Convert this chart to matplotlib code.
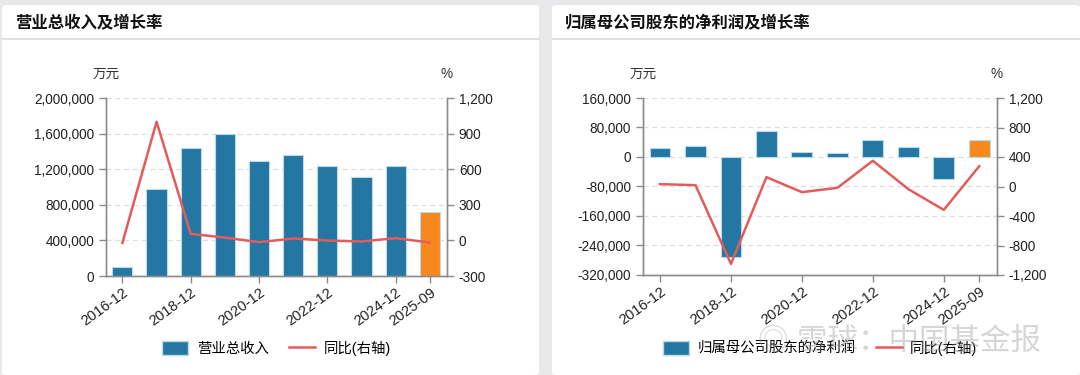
import matplotlib
matplotlib.use("Agg")
import matplotlib.pyplot as plt
from matplotlib.patches import FancyBboxPatch
from matplotlib.lines import Line2D
from matplotlib.ticker import FuncFormatter
import numpy as np

plt.rcParams['font.family'] = ['Liberation Sans', 'Noto Sans CJK SC', 'DejaVu Sans']

periods = ['2016-12', '2017-12', '2018-12', '2019-12', '2020-12',
           '2021-12', '2022-12', '2023-12', '2024-12', '2025-09']
shown = ['2016-12', '2018-12', '2020-12', '2022-12', '2024-12', '2025-09']

revenue = [97000, 980000, 1436000, 1600000, 1293000,
           1357000, 1233000, 1117000, 1233000, 722000]
revenue_yoy = [-21, 1000, 55, 24, -15, 16, -1, -9, 19, -18]

profit = [24500, 29000, -270800, 69700, 13600,
          10900, 45300, 26300, -58900, 46200]
profit_yoy = [32, 18, -1050, 127, -77, -18, 349, -36, -317, 276]

BLUE = '#2476a3'
ORANGE = '#f7891c'
RED = '#e35c5c'
GRAY = '#8c8c8c'

fig = plt.figure(figsize=(10.8, 3.75), dpi=100)
fig.patch.set_facecolor('#e9e9eb')

# white cards + title separators
for x0, x1 in [(2, 539), (552, 1080)]:
    fig.patches.append(FancyBboxPatch((x0 / 1080, 0), (x1 - x0) / 1080, 1 - 5 / 375,
                                      boxstyle='round,pad=0,rounding_size=0.006',
                                      transform=fig.transFigure, facecolor='white',
                                      edgecolor='none', zorder=-2))
    fig.lines.append(Line2D([x0 / 1080, x1 / 1080], [1 - 38.5 / 375] * 2,
                            transform=fig.transFigure, color='#dcdcdc', lw=1.2,
                            zorder=-1))


def money(v, pos):
    return f'{int(v):,}'


def panel(rect, title, title_x, values, yoy, ylim, ystep, rlim, rstep, bar_label):
    ax = fig.add_axes(rect)
    ax.patch.set_alpha(0)
    x = np.arange(len(periods))
    colors = [BLUE] * (len(periods) - 1) + [ORANGE]
    ax.bar(x, values, width=0.59, color=colors, edgecolor='#b9d9ec',
           linewidth=0.8, zorder=3)
    ax.set_xlim(-0.48, len(periods) - 0.5)
    ax.set_ylim(*ylim)
    ax.set_yticks(np.arange(ylim[0], ylim[1] + 1, ystep))
    ax.yaxis.set_major_formatter(FuncFormatter(money))
    ax.grid(axis='y', color='#dedede', linestyle=(0, (4, 3)), linewidth=0.9, zorder=0)
    ax.set_axisbelow(True)

    ticks = [periods.index(p) for p in shown]
    ax.set_xticks(ticks)
    ax.set_xticklabels(shown, rotation=36, ha='right', rotation_mode='anchor')

    ax2 = ax.twinx()
    ax2.patch.set_alpha(0)
    ax2.plot(x, yoy, color=RED, lw=1.8, zorder=4)
    ax2.set_ylim(*rlim)
    ax2.set_yticks(np.arange(rlim[0], rlim[1] + 1, rstep))
    ax2.yaxis.set_major_formatter(FuncFormatter(money))

    for a in (ax, ax2):
        a.spines['top'].set_visible(False)
        for s in ('left', 'right', 'bottom'):
            a.spines[s].set_color(GRAY)
            a.spines[s].set_linewidth(1)
        a.tick_params(colors='#222222', labelsize=9.8, length=5, width=1)
        a.tick_params(axis='both', color=GRAY)
    ax.tick_params(axis='x', labelsize=10.5, pad=2)

    l, b, w, h = rect
    fig.text(l, b + h + 0.045, '万元', ha='center', va='bottom', fontsize=9.8,
             color='#333333')
    fig.text(l + w, b + h + 0.045, '%', ha='center', va='bottom', fontsize=9.8,
             color='#333333')
    fig.text(title_x, 1 - 22 / 375, title, ha='left', va='center', fontsize=11.8,
             fontweight='bold', color='#111111')

    handles = [FancyBboxPatch((0, 0), 1, 1, boxstyle='round,pad=0,rounding_size=0.3',
                              facecolor=BLUE, edgecolor='#b9d9ec'),
               Line2D([], [], color=RED, lw=1.8)]
    fig.legend(handles, [bar_label, '同比(右轴)'], loc='center',
               bbox_to_anchor=(l + w / 2, 1 - 348 / 375), ncol=2, frameon=False,
               fontsize=10.4, handlelength=1.8, handleheight=1.1,
               columnspacing=1.4, handletextpad=0.6)
    return ax


panel([106 / 1080, 1 - 276 / 375, 341 / 1080, 178 / 375], '营业总收入及增长率', 15 / 1080,
      revenue, revenue_yoy, (0, 2000000), 400000, (-300, 1200), 300, '营业总收入')
panel([643 / 1080, 1 - 275 / 375, 354 / 1080, 177 / 375], '归属母公司股东的净利润及增长率',
      565 / 1080, profit, profit_yoy, (-320000, 160000), 80000, (-1200, 1200), 400,
      '归属母公司股东的净利润')

# watermark
fig.text(0.702, 1 - 342 / 375, '◎ 雪球：中国基金报', ha='left', va='center',
         fontsize=22, color='#9a9a9a', alpha=0.4, zorder=10)

fig.savefig('out.png', dpi=100, facecolor=fig.get_facecolor())
